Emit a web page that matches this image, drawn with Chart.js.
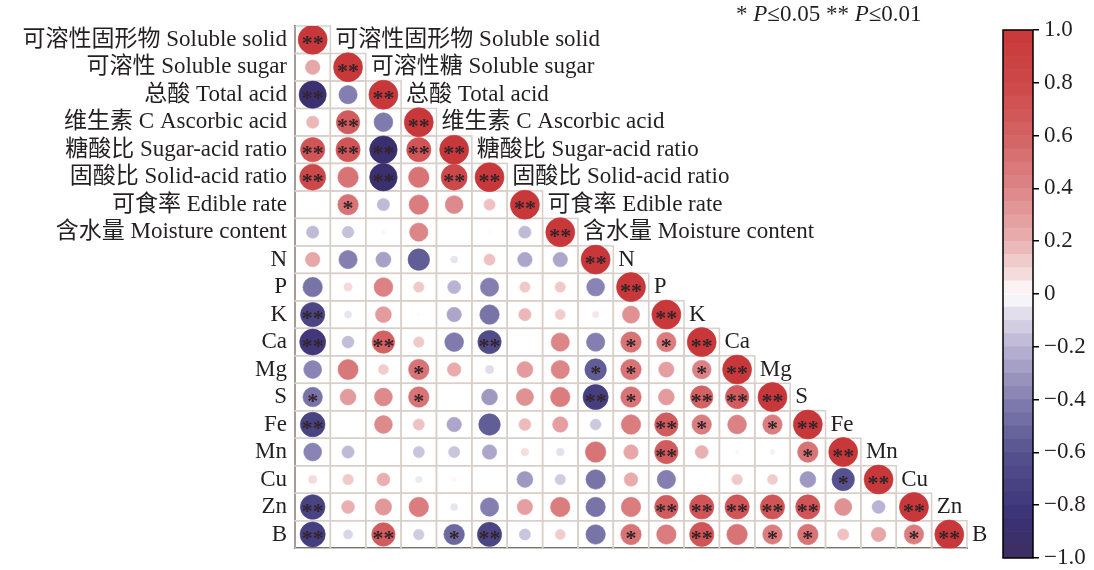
<!DOCTYPE html>
<html>
<head>
<meta charset="utf-8">
<script src="https://cdn.jsdelivr.net/npm/chart.js@4"></script>
<style>
  html, body { margin: 0; padding: 0; background: #fff; }
  #wrap { position: relative; width: 1094px; height: 570px; overflow: hidden; }
  #main { position: absolute; left: 0; top: 0; }
  #bar { position: absolute; left: 990px; top: 0; }
  #note { position: absolute; left: 736px; top: 1px; font: 23px 'Liberation Serif', serif; color: #231f20; white-space: nowrap; }
</style>
</head>
<body>
<div id="wrap">
  <canvas id="main" width="1094" height="570"></canvas>
  <canvas id="bar" width="104" height="570"></canvas>
  <div id="note">* <i>P</i>≤0.05 ** <i>P</i>≤0.01</div>
</div>
<script>
// Variable names (row labels on the left axis)
const rowLabels = [
  '可溶性固形物 Soluble solid', '可溶性 Soluble sugar', '总酸 Total acid',
  '维生素 C Ascorbic acid', '糖酸比 Sugar-acid ratio', '固酸比 Solid-acid ratio',
  '可食率 Edible rate', '含水量 Moisture content',
  'N', 'P', 'K', 'Ca', 'Mg', 'S', 'Fe', 'Mn', 'Cu', 'Zn', 'B'
];
// Names written next to the diagonal
const diagLabels = [
  '可溶性固形物 Soluble solid', '可溶性糖 Soluble sugar', '总酸 Total acid',
  '维生素 C Ascorbic acid', '糖酸比 Sugar-acid ratio', '固酸比 Solid-acid ratio',
  '可食率 Edible rate', '含水量 Moisture content',
  'N', 'P', 'K', 'Ca', 'Mg', 'S', 'Fe', 'Mn', 'Cu', 'Zn', 'B'
];

// Pearson correlation coefficients, lower triangle (row i, columns 0..i)
const corrSolid    = [1];
const corrSugar    = [0.25, 1];
const corrAcid     = [-0.88, -0.4, 1];
const corrVc       = [0.18, 0.65, -0.42, 1];
const corrSugarAc  = [0.7, 0.7, -0.9, 0.7, 1];
const corrSolidAc  = [0.8, 0.5, -0.9, 0.5, 0.8, 1];
const corrEdible   = [0, 0.5, -0.18, 0.45, 0.38, 0.15, 1];
const corrMoisture = [-0.18, -0.16, 0.02, 0.4, 0, 0.01, -0.18, 1];
const corrN  = [0.25, -0.4, -0.27, -0.55, -0.06, 0.15, -0.25, -0.25, 1];
const corrP  = [-0.45, 0.08, 0.42, 0.13, -0.2, -0.4, 0.13, 0.13, -0.38, 1];
const corrK  = [-0.7, -0.06, 0.3, 0.01, -0.25, -0.45, 0.18, 0.12, 0.05, 0.35, 1];
const corrCa = [-0.8, -0.17, 0.6, 0.13, -0.42, -0.65, 0, 0.4, -0.4, 0.5, 0.45, 1];
const corrMg = [-0.38, 0.48, 0.12, 0.5, 0.22, -0.08, 0.3, 0.4, -0.55, 0.5, 0.28, 0.42, 1];
const corrS  = [-0.45, 0.3, 0.38, 0.5, 0, -0.3, 0.35, 0.45, -0.75, 0.5, 0.3, 0.6, 0.65, 1];
const corrFe = [-0.72, 0, 0.38, 0.15, -0.25, -0.55, 0.17, 0.28, -0.14, 0.45, 0.65, 0.45, 0.42, 0.45, 1];
const corrMn = [-0.38, -0.18, 0, -0.15, -0.15, -0.25, 0.07, -0.07, 0.5, 0.25, 0.65, 0.2, 0.02, -0.03, 0.5, 1];
const corrCu = [0.08, 0.13, 0.2, -0.05, 0.02, 0, -0.3, -0.13, -0.45, 0.22, -0.4, 0, 0.13, 0.12, -0.3, -0.6, 1];
const corrZn = [-0.72, 0.2, 0.32, 0.45, -0.06, -0.4, 0.28, 0.45, -0.45, 0.45, 0.65, 0.7, 0.7, 0.7, 0.7, 0.35, -0.2, 1];
const corrB  = [-0.75, -0.1, 0.65, -0.13, -0.5, -0.7, -0.15, 0.12, -0.45, 0.5, 0.45, 0.7, 0.5, 0.45, 0.5, 0.15, 0.25, 0.45, 1];

const corrRows = [corrSolid, corrSugar, corrAcid, corrVc, corrSugarAc, corrSolidAc, corrEdible,
  corrMoisture, corrN, corrP, corrK, corrCa, corrMg, corrS, corrFe, corrMn, corrCu, corrZn, corrB];

// Significance marks: '*' P<=0.05, '**' P<=0.01
const signifRows = [
  ['**'],
  ['', '**'],
  ['**', '', '**'],
  ['', '**', '', '**'],
  ['**', '**', '**', '**', '**'],
  ['**', '', '**', '', '**', '**'],
  ['', '*', '', '', '', '', '**'],
  ['', '', '', '', '', '', '', '**'],
  ['', '', '', '', '', '', '', '', '**'],
  ['', '', '', '', '', '', '', '', '', '**'],
  ['**', '', '', '', '', '', '', '', '', '', '**'],
  ['**', '', '**', '', '', '**', '', '', '', '*', '*', '**'],
  ['', '', '', '*', '', '', '', '', '*', '*', '', '*', '**'],
  ['*', '', '', '*', '', '', '', '', '**', '*', '', '**', '**', '**'],
  ['**', '', '', '', '', '', '', '', '', '', '**', '*', '', '*', '**'],
  ['', '', '', '', '', '', '', '', '', '', '**', '', '', '', '*', '**'],
  ['', '', '', '', '', '', '', '', '', '', '', '', '', '', '', '*', '**'],
  ['**', '', '', '', '', '', '', '', '', '', '**', '**', '**', '**', '**', '', '', '**'],
  ['**', '', '**', '', '*', '**', '', '', '', '*', '', '**', '', '*', '*', '', '', '*', '**']
];

// Colour scale from -1 (indigo) through white to +1 (red)
const colorStops = [
  [-1.0, [62, 45, 96]], [-0.85, [58, 50, 118]], [-0.6, [86, 82, 143]], [-0.4, [132, 127, 176]],
  [-0.2, [186, 179, 211]], [-0.07, [228, 224, 236]], [0, [255, 255, 255]], [0.07, [245, 222, 222]],
  [0.2, [234, 176, 177]], [0.4, [221, 134, 136]], [0.6, [212, 98, 99]], [0.8, [205, 72, 73]], [1.0, [200, 56, 58]]
];
function corrColor(v, alpha) {
  let c = colorStops[colorStops.length - 1][1];
  for (let k = 0; k < colorStops.length - 1; k++) {
    const [a, ca] = colorStops[k], [b, cb] = colorStops[k + 1];
    if (v >= a && v <= b) {
      const t = (v - a) / (b - a);
      c = ca.map((x, n) => Math.round(x + (cb[n] - x) * t));
      break;
    }
  }
  return `rgba(${c[0]},${c[1]},${c[2]},${alpha === undefined ? 1 : alpha})`;
}

const FONT = "'Liberation Serif', 'Noto Sans CJK SC', serif";
const LABEL_SIZE = 23;
const RMAX = 14.5;
const N = rowLabels.length;

const cells = [];
corrRows.forEach((row, i) => row.forEach((v, j) => cells.push({ x: j, y: i, v: v, sig: signifRows[i][j] || '' })));

// Staircase of cell borders behind the circles
const cellGrid = {
  id: 'cellGrid',
  beforeDatasetsDraw(chart) {
    const { ctx, scales: { x, y } } = chart;
    ctx.save();
    ctx.strokeStyle = '#d9cfc9';
    ctx.lineWidth = 1.5;
    for (let i = 0; i < N; i++) {
      for (let j = 0; j <= i; j++) {
        const x0 = x.getPixelForValue(j - 0.5), x1 = x.getPixelForValue(j + 0.5);
        const y0 = y.getPixelForValue(i - 0.5), y1 = y.getPixelForValue(i + 0.5);
        ctx.strokeRect(x0, y0, x1 - x0, y1 - y0);
      }
    }
    ctx.restore();
  }
};

// Significance stars and diagonal names
const overlay = {
  id: 'overlay',
  afterDatasetsDraw(chart) {
    const { ctx, scales: { x, y } } = chart;
    const meta = chart.getDatasetMeta(0);
    ctx.save();
    ctx.fillStyle = '#33242a';
    ctx.font = 'bold 22px ' + FONT;
    ctx.textAlign = 'center';
    ctx.textBaseline = 'middle';
    meta.data.forEach((el, k) => {
      const s = cells[k].sig;
      if (s) ctx.fillText(s, el.x, el.y + 5);
    });
    ctx.fillStyle = '#231f20';
    ctx.font = LABEL_SIZE + 'px ' + FONT;
    ctx.textAlign = 'left';
    diagLabels.forEach((t, i) => {
      ctx.fillText(t, x.getPixelForValue(i + 0.5) + 5, y.getPixelForValue(i));
    });
    ctx.restore();
  }
};

new Chart(document.getElementById('main'), {
  type: 'scatter',
  data: {
    datasets: [{
      data: cells,
      pointRadius: ctx => RMAX * Math.sqrt(Math.abs(ctx.raw.v)),
      pointHoverRadius: ctx => RMAX * Math.sqrt(Math.abs(ctx.raw.v)),
      pointBackgroundColor: ctx => corrColor(ctx.raw.v),
      pointBorderColor: ctx => corrColor(ctx.raw.v, 0.6),
      pointBorderWidth: 1
    }]
  },
  options: {
    responsive: false,
    animation: false,
    events: [],
    layout: { padding: { left: 0, top: 26, right: 127, bottom: 0 } },
    plugins: { legend: { display: false }, tooltip: { enabled: false } },
    scales: {
      x: {
        type: 'linear', min: -0.5, max: N - 0.5,
        ticks: { display: false },
        grid: { display: false, drawTicks: false },
        border: { display: true, color: '#000', width: 2 },
        afterFit: s => { s.height = 4; }
      },
      y: {
        type: 'linear', reverse: true, min: -0.5, max: N - 0.5,
        afterBuildTicks: s => { s.ticks = rowLabels.map((_, i) => ({ value: i })); },
        ticks: {
          autoSkip: false, padding: 8, color: '#231f20',
          font: { family: FONT, size: LABEL_SIZE },
          callback: v => rowLabels[v]
        },
        grid: { display: false, drawTicks: false },
        border: { display: true, color: '#000', width: 2 },
        afterFit: s => { s.width = 295; }
      }
    }
  },
  plugins: [cellGrid, overlay]
});

// Colour bar
const bandEdges = [];
for (let k = 0; k < 40; k++) bandEdges.push([-1 + k * 0.05, -1 + (k + 1) * 0.05]);

const barFrame = {
  id: 'barFrame',
  afterDraw(chart) {
    const { ctx, chartArea: a } = chart;
    ctx.save();
    ctx.strokeStyle = '#000';
    ctx.lineWidth = 1.5;
    ctx.strokeRect(a.left, a.top, a.right - a.left, a.bottom - a.top);
    ctx.restore();
  }
};

new Chart(document.getElementById('bar'), {
  type: 'bar',
  data: {
    labels: [''],
    datasets: bandEdges.map(b => ({
      data: [b],
      backgroundColor: corrColor((b[0] + b[1]) / 2),
      borderWidth: 0,
      barPercentage: 1,
      categoryPercentage: 1,
      grouped: false
    }))
  },
  options: {
    responsive: false,
    animation: false,
    events: [],
    layout: { padding: { left: 13, top: 30, right: 0, bottom: 12 } },
    plugins: { legend: { display: false }, tooltip: { enabled: false } },
    scales: {
      x: { display: false },
      y: {
        position: 'right', min: -1, max: 1,
        ticks: {
          stepSize: 0.2, padding: 5, color: '#231f20',
          font: { family: FONT, size: LABEL_SIZE },
          callback: v => Math.abs(v) < 1e-9 ? '0' : (v < 0 ? '\u2212' : '') + Math.abs(v).toFixed(1)
        },
        grid: { drawOnChartArea: false, color: '#000', tickLength: 6, lineWidth: 1.5 },
        border: { display: false },
        afterFit: s => { s.width = 61; s.paddingTop = 0; s.paddingBottom = 0; }
      }
    }
  },
  plugins: [barFrame]
});
</script>
</body>
</html>
